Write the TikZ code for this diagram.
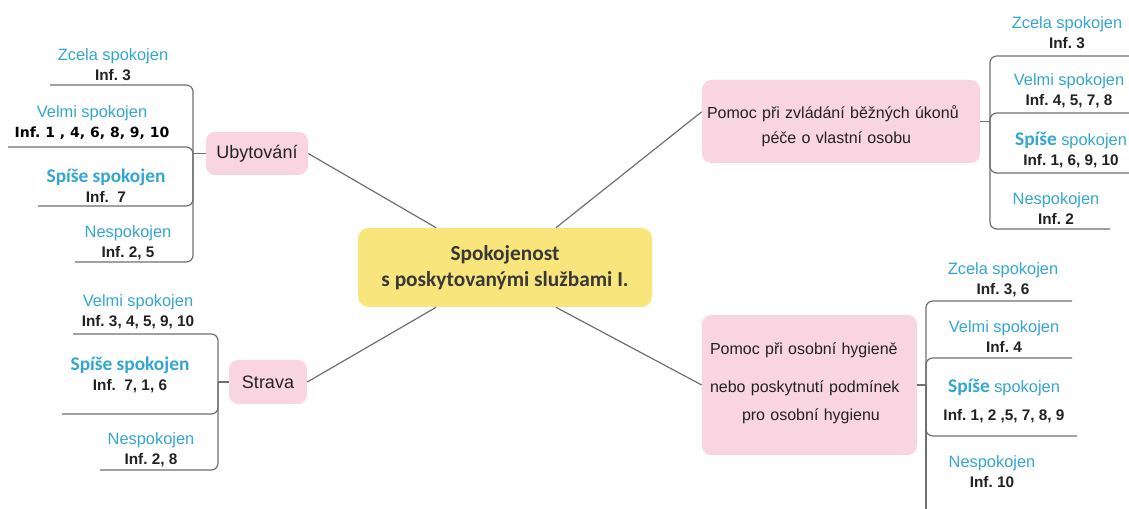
\documentclass[tikz,border=0pt]{standalone}
\usepackage{fontspec}
\setmainfont{Liberation Sans}
\newfontfamily\calfont{Carlito}
\newfontfamily\djvfont{DejaVu Sans}
\usepackage{tikz}
\frenchspacing
\definecolor{mm_pink}{HTML}{F9D4E1}
\definecolor{mm_yellow}{HTML}{F8E57B}
\definecolor{mm_cyan}{HTML}{33A6D2}
\definecolor{mm_line}{HTML}{707070}
\definecolor{mm_text}{HTML}{222222}

\newcommand\satl[1]{{\color{mm_cyan}\fontsize{12.3}{15}\selectfont #1}}
\newcommand\spise[1]{{\color{mm_cyan}\calfont\bfseries\fontsize{14.5}{15}\selectfont #1}}
\newcommand\infl[1]{{\color{mm_text}\bfseries\fontsize{11.5}{15}\selectfont #1}}

\tikzset{
  branch/.style={draw=mm_line, line width=0.9pt, rounded corners=5pt},
  topic/.style={fill=mm_pink, rounded corners=7pt, text=mm_text, inner sep=0pt},
  leaf/.style={align=center, inner sep=1pt, font=\fontsize{12}{15}\selectfont}
}

\begin{document}
\begin{tikzpicture}[x=0.75pt, y=-0.75pt]
            \useasboundingbox[fill=white] (0,0) rectangle (1129,509);

            % main topics
            \node[fill=mm_yellow, rounded corners=8pt, minimum width=220.5pt, minimum height=59.25pt,
                  align=center, text=mm_text!90, font=\calfont\bfseries\fontsize{16}{19.5}\selectfont]
                  (ctr) at (505,267.5) {Spokojenost\\ s poskytovanými službami I.};
            \node[topic, minimum width=76.5pt, minimum height=32.25pt, font=\fontsize{13.5}{16}\selectfont]
                  (ub) at (257,153.5) {Ubytování};
            \node[topic, minimum width=58.5pt, minimum height=33pt, font=\fontsize{13.5}{16}\selectfont]
                  (st) at (268,382) {Strava};
            \node[topic, text width=201pt, inner xsep=3.75pt, minimum height=62.25pt, align=left,
                  font=\fontsize{12}{14}\selectfont]
                  (rt) at (841,121.5) {\rule{0pt}{17pt}Pomoc při zvládání běžných úkonů\\[4.5pt]\hspace*{41pt}péče o vlastní osobu};
            \node[topic, text width=149.25pt, inner xsep=6pt, minimum height=105pt, align=left,
                  font=\fontsize{12}{14}\selectfont]
                  (rb) at (809.5,385) {Pomoc při osobní hygieně\\[14pt]nebo poskytnutí podmínek\\[7pt]\hspace*{24pt}pro osobní hygienu\rule[-5pt]{0pt}{0pt}};

            % Ubytovani
            \node[leaf] (ub1) at (113,65) {\satl{Zcela spokojen}\\ \infl{Inf. 3}};
            \node[leaf] (ub2) at (92,123) {\satl{Velmi spokojen}\\ {\djvfont\bfseries\fontsize{10.5}{15}\selectfont Inf. 1 , 4, 6, 8, 9, 10}};
            \node[leaf] (ub3) at (106,185.5) {\spise{Spíše spokojen}\\ \infl{Inf.~ 7}};
            \node[leaf] (ub4) at (128,243) {\satl{Nespokojen}\\ \infl{Inf. 2, 5}};
            \coordinate (ubS) at (193,153.5);
            \coordinate (ub1l) at (50,85);
            \coordinate (ub2l) at (8,147);
            \coordinate (ub3l) at (38,206);
            \coordinate (ub4l) at (75,262);

            % Strava
            \node[leaf] (st1) at (138,311.5) {\satl{Velmi spokojen}\\ \infl{Inf. 3, 4, 5, 9, 10}};
            \node[leaf] (st2) at (130,375) {\spise{Spíše spokojen}\\ \infl{Inf.~ 7, 1, 6}};
            \node[leaf] (st3) at (151,449.5) {\satl{Nespokojen}\\ \infl{Inf. 2, 8}};
            \coordinate (stS) at (218,382);
            \coordinate (st1l) at (73,334);
            \coordinate (st2l) at (62,414);
            \coordinate (st3l) at (100,470);

            % bezne ukony
            \node[leaf] (rt1) at (1067,33) {\satl{Zcela spokojen}\\ \infl{Inf. 3}};
            \node[leaf] (rt2) at (1069,91) {\satl{Velmi spokojen}\\ \infl{Inf. 4, 5, 7, 8}};
            \node[leaf] (rt3) at (1071,150.5) {\spise{Spíše} \satl{spokojen}\\ \infl{Inf. 1, 6, 9, 10}};
            \node[leaf] (rt4) at (1056,209) {\satl{Nespokojen}\\ \infl{Inf. 2}};
            \coordinate (rtS) at (990,121.5);
            \coordinate (rt1r) at (1129,56);
            \coordinate (rt2r) at (1129,113);
            \coordinate (rt3r) at (1129,173);
            \coordinate (rt4r) at (1110,229);

            % hygiena
            \node[leaf] (rb1) at (1003,280) {\satl{Zcela spokojen}\\ \infl{Inf. 3, 6}};
            \node[leaf] (rb2) at (1004,337) {\satl{Velmi spokojen}\\ \infl{Inf. 4}};
            \node[leaf] (rb3) at (1004,401) {\spise{Spíše} \satl{spokojen}\\[6pt] \infl{Inf. 1, 2 ,5, 7, 8, 9}};
            \node[leaf] (rb4) at (992,472) {\satl{Nespokojen}\\ \infl{Inf. 10}};
            \coordinate (rbS) at (926,385);
            \coordinate (rb1r) at (1072,301);
            \coordinate (rb2r) at (1072,358);
            \coordinate (rb3r) at (1077,436);
            \coordinate (rbEnd) at (926,509);

            % connectors
            \draw[branch] (ctr.150) -- (ub.east);
            \draw[branch] (ctr.210) -- (st.east);
            \draw[branch] (ctr.38) -- (rt.176);
            \draw[branch] (ctr.-38) -- (rb.west);

            \draw[branch] (ub.west) -- (ubS);
            \foreach \c in {ub1l, ub2l, ub3l, ub4l}
                \draw[branch] (ubS) |- (\c);
            \draw[branch] (st.west) -- (stS);
            \foreach \c in {st1l, st2l, st3l}
                \draw[branch] (stS) |- (\c);
            \draw[branch] (rt.east) -- (rtS);
            \foreach \c in {rt1r, rt2r, rt3r, rt4r}
                \draw[branch] (rtS) |- (\c);
            \draw[branch] (rb.east) -- (rbS);
            \foreach \c in {rb1r, rb2r, rb3r}
                \draw[branch] (rbS) |- (\c);
            \draw[branch] (rbS) -- (rbEnd);

        \end{tikzpicture}
\end{document}
